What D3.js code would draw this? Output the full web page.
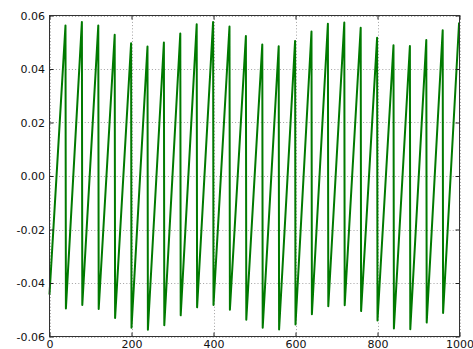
<!DOCTYPE html>
<html>
<head>
<meta charset="utf-8">
<script src="https://cdn.jsdelivr.net/npm/d3@7"></script>
<style>
  html, body { margin: 0; padding: 0; background: #fff; }
  svg { display: block; }
  .tick text { font-family: "DejaVu Sans", sans-serif; font-size: 11px; fill: #111; }
</style>
</head>
<body>
<svg id="chart" width="473" height="349"></svg>
<script>
// Sample positions of the waveform's low points (start of each ramp)
const troughX = [0, 40, 80, 120, 160, 200, 240, 280, 320, 360, 400, 440, 480,
                 520, 560, 600, 640, 680, 720, 760, 800, 840, 880, 920, 960];
const troughY = [-0.0443, -0.0495, -0.0482, -0.0497, -0.0531, -0.0567, -0.0575, -0.0558,
                 -0.0521, -0.0491, -0.0482, -0.0500, -0.0537, -0.0567, -0.0574, -0.0555,
                 -0.0517, -0.0487, -0.0483, -0.0505, -0.0540, -0.0570, -0.0573, -0.0548,
                 -0.0512];
// Sample positions of the high points (end of each ramp)
const peakX = [39, 79, 119, 159, 199, 239, 279, 319, 359, 399, 439, 479, 519,
               559, 599, 639, 679, 719, 759, 799, 839, 879, 919, 959, 999];
const peakY = [0.0563, 0.0576, 0.0563, 0.0528, 0.0496, 0.0484, 0.0499, 0.0533,
               0.0567, 0.0576, 0.0559, 0.0523, 0.0492, 0.0485, 0.0505, 0.0540,
               0.0569, 0.0574, 0.0554, 0.0517, 0.0489, 0.0486, 0.0508, 0.0545,
               0.0574];

const xTicks = [0, 200, 400, 600, 800, 1000];
const yTicks = [-0.06, -0.04, -0.02, 0.00, 0.02, 0.04, 0.06];

// Interleave ramps: low point, then high point, repeated
const series = [];
troughX.forEach((xv, i) => {
  series.push({ x: xv, y: troughY[i] });
  series.push({ x: peakX[i], y: peakY[i] });
});

const svg = d3.select("#chart");
const plotL = 49.5, plotR = 459.5, plotT = 15.5, plotB = 336.5;

const x = d3.scaleLinear().domain([0, 1000]).range([plotL, plotR]);
const y = d3.scaleLinear().domain([-0.06, 0.06]).range([plotB, plotT]);

// Dotted grid
const grid = svg.append("g").attr("stroke", "#8a8a8a").attr("stroke-width", 0.8)
  .attr("stroke-dasharray", "1,2.2");
grid.selectAll("line.vx").data(xTicks).join("line")
  .attr("x1", d => Math.round(x(d)) + 0.5).attr("x2", d => Math.round(x(d)) + 0.5)
  .attr("y1", plotT).attr("y2", plotB);
grid.selectAll("line.hy").data(yTicks).join("line")
  .attr("y1", d => Math.round(y(d)) + 0.5).attr("y2", d => Math.round(y(d)) + 0.5)
  .attr("x1", plotL).attr("x2", plotR);

// Waveform
const line = d3.line().x(d => x(d.x)).y(d => y(d.y));
svg.append("path")
  .datum(series)
  .attr("d", line)
  .attr("fill", "none")
  .attr("stroke", "#007a00")
  .attr("stroke-width", 2)
  .attr("stroke-linejoin", "round");

// Axes with inward ticks on all four sides
const fmtY = d => d3.format(".2f")(d).replace("\u2212", "-");
const axB = d3.axisBottom(x).tickValues(xTicks).tickSizeInner(-4).tickSizeOuter(0).tickPadding(3.5)
  .tickFormat(d3.format("d"));
const axL = d3.axisLeft(y).tickValues(yTicks).tickSizeInner(-4).tickSizeOuter(0).tickPadding(4.5)
  .tickFormat(fmtY);
const axT = d3.axisTop(x).tickValues(xTicks).tickSizeInner(-4).tickSizeOuter(0).tickFormat("");
const axR = d3.axisRight(y).tickValues(yTicks).tickSizeInner(-4).tickSizeOuter(0).tickFormat("");

function style(g) {
  g.select(".domain").remove();
  g.selectAll(".tick line").attr("stroke", "#222").attr("stroke-width", 1);
}
svg.append("g").attr("transform", `translate(0,${plotB})`).call(axB).call(style);
svg.append("g").attr("transform", `translate(${plotL},0)`).call(axL).call(style);
svg.append("g").attr("transform", `translate(0,${plotT})`).call(axT).call(style);
svg.append("g").attr("transform", `translate(${plotR},0)`).call(axR).call(style);

// Frame
svg.append("rect")
  .attr("x", plotL).attr("y", plotT)
  .attr("width", plotR - plotL).attr("height", plotB - plotT)
  .attr("fill", "none").attr("stroke", "#333").attr("stroke-width", 1);
</script>
</body>
</html>
